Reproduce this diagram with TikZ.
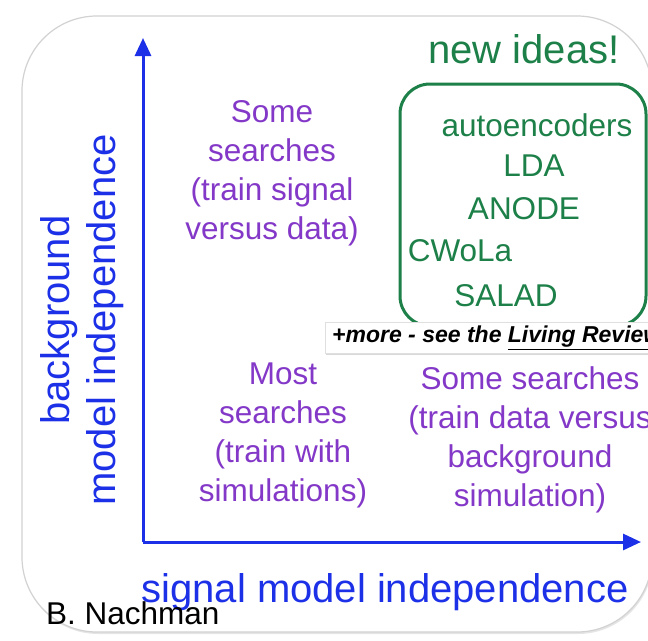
\documentclass[tikz,border=0pt]{standalone}
\usepackage{fontspec}
\setmainfont{Liberation Sans}
\usetikzlibrary{arrows.meta}
\usetikzlibrary{shadows}
\definecolor{axisblue}{RGB}{28,48,232}
\definecolor{quadpurple}{RGB}{132,56,200}
\definecolor{ideagreen}{RGB}{28,128,72}
\newcommand{\bigfont}{\fontsize{40}{46}\selectfont}
\newcommand{\midfont}{\fontsize{31.5}{39}\selectfont}

\begin{document}
\begin{tikzpicture}[x=1pt,y=-1pt,
    quad/.style={text=quadpurple, font=\midfont, align=center, inner sep=0pt},
    idea/.style={text=ideagreen, font=\midfont, inner sep=0pt},
    axis/.style={draw=axisblue, line width=3pt, -{Triangle[length=18pt,width=16pt]}},
    axislabel/.style={text=axisblue, font=\bigfont, align=center, inner sep=0pt}]
    \useasboundingbox (0,0) rectangle (648,640);
    \fill[white] (0,0) rectangle (648,640);

    % outer card
    \draw[gray!35, line width=1.2pt, fill=white, rounded corners=75pt,
          drop shadow={opacity=0.2, shadow xshift=1pt, shadow yshift=-2pt}]
        (22,16) rectangle (652,632);

    % axes
    \coordinate (origin) at (143,542);
    \coordinate (ytip) at (143,38);
    \coordinate (xtip) at (641,542);
    \draw[axis] (origin) -- (ytip);
    \draw[axis] (origin) -- (xtip);

    \node[axislabel, rotate=90] (ylab) at (82,320) {background\\model independence};
    \node[axislabel] (xlab) at (385,592) {signal model independence};
    \node[font=\midfont, inner sep=0pt, anchor=west] (author) at (46,613) {B. Nachman};

    % quadrants
    \node[quad] (topleft) at (272,173) {Some\\searches\\(train signal\\versus data)};
    \node[quad] (botleft) at (283,435) {Most\\searches\\(train with\\simulations)};
    \node[quad] (botright) at (530,440) {Some searches\\(train data versus\\background\\simulation)};

    % new ideas
    \node[text=ideagreen, font=\bigfont, inner sep=0pt] (newideas) at (524,49) {new ideas!};
    \draw[ideagreen, line width=3pt, rounded corners=30pt] (400,84) rectangle (646,326);
    \node[idea] (ae) at (537,125) {autoencoders};
    \node[idea] (lda) at (534,166) {LDA};
    \node[idea] (anode) at (524,209) {ANODE};
    \node[idea] (cwola) at (460,251) {CWoLa};
    \node[idea] (salad) at (506,296) {SALAD};

    % banner
    \draw[gray!25, fill=white, drop shadow={opacity=0.3, shadow xshift=1pt, shadow yshift=-2pt}]
        (325,322) rectangle (720,353);
    \node[anchor=west, inner sep=0pt, font=\fontsize{23}{27}\selectfont\bfseries\itshape] (more)
        at (332,338) {+more - see the \underline{Living Review}};
\end{tikzpicture}
\end{document}
